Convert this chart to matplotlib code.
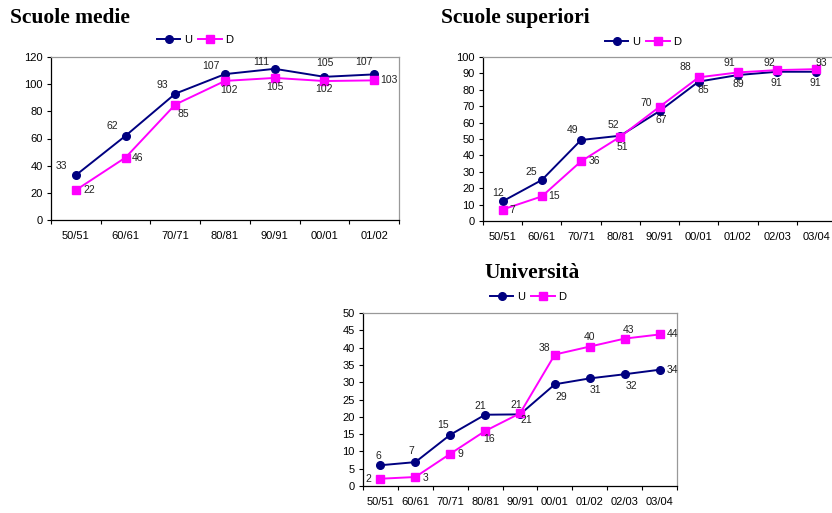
import matplotlib
matplotlib.use("Agg")
import matplotlib.pyplot as plt
from matplotlib.ticker import MultipleLocator, FixedLocator

# ---- data ----
medie_cats = ["50/51", "60/61", "70/71", "80/81", "90/91", "00/01", "01/02"]
medie_U = [33, 62, 93, 107.4, 111.3, 105.4, 107.2]
medie_D = [22, 46, 85, 102.4, 104.6, 102.3, 102.8]

sup_cats = ["50/51", "60/61", "70/71", "80/81", "90/91", "00/01", "01/02", "02/03", "03/04"]
sup_U = [12, 25, 49.4, 52, 67, 85, 89, 91, 91]
sup_D = [7, 15, 36.4, 51.4, 69.6, 87.6, 90.6, 92, 92.6]

uni_cats = ["50/51", "60/61", "70/71", "80/81", "90/91", "00/01", "01/02", "02/03", "03/04"]
uni_U = [6, 6.9, 14.8, 20.6, 20.7, 29.4, 31.1, 32.3, 33.6]
uni_D = [2.1, 2.6, 9.3, 15.9, 21.0, 38.0, 40.3, 42.6, 43.8]

titles = ["Scuole medie", "Scuole superiori", "Università"]

# ---- label offsets (pixels) ----
medie_offU = [(-14, 9), (-13, 10), (-13, 9), (-14, 8), (-13, 7), (0, 14), (-10, 12)]
medie_offD = [(13, 0), (12, 0), (8, -9), (4, -9), (0, -9), (0, -8), (15, 0)]
sup_offU = [(-5, 8), (-11, 8), (-8, 10), (-7, 11), (2, -9), (5, -8), (0, -9), (-1, -11), (-1, -11)]
sup_offD = [(10, 0), (12, 0), (13, 0), (2, -10), (-13, 4), (-13, 10), (-9, 9), (-8, 7), (5, 6)]
uni_offU = [(-2, 9), (-4, 11), (-7, 10), (-5, 9), (6, -6), (6, -13), (6, -12), (7, -12), (13, 0)]
uni_offD = [(-12, 0), (10, -1), (10, 0), (4, -8), (-4, 8), (-10, 7), (0, 10), (4, 9), (13, 0)]

W, H = 832, 513
fig = plt.figure(figsize=(W / 100, H / 100), dpi=100)
plt.rcParams['font.family'] = ['Liberation Sans', 'DejaVu Sans']

NAVY = "#000080"
MAG = "#FF00FF"
PX = 0.72  # points per pixel


def make(rect_px, cats, U, D, offU, offD, ymax, ystep, legend_px, title, title_px, title_ha):
    l, t, r, b = rect_px
    ax = fig.add_axes([l / W, 1 - b / H, (r - l) / W, (b - t) / H])
    n = len(cats)
    x = list(range(n))
    lu, = ax.plot(x, U, color=NAVY, marker="o", markersize=5.5, lw=1.4, label="U", clip_on=False, zorder=3)
    ld, = ax.plot(x, D, color=MAG, marker="s", markersize=5.5, lw=1.4, label="D", clip_on=False, zorder=3)
    ax.set_xlim(-0.5, n - 0.5)
    ax.set_ylim(0, ymax)
    ax.yaxis.set_major_locator(MultipleLocator(ystep))
    ax.xaxis.set_major_locator(FixedLocator([i - 0.5 for i in range(n + 1)]))
    ax.set_xticklabels([])
    ax.set_xticks(x, minor=True)
    ax.set_xticklabels(cats, minor=True, fontsize=8)
    ax.tick_params(axis="x", which="major", direction="out", length=3, width=0.8)
    ax.tick_params(axis="x", which="minor", length=0, pad=8)
    ax.tick_params(axis="y", direction="out", length=3, width=0.8, labelsize=8, pad=3)
    for s in ("top", "right"):
        ax.spines[s].set_color("#999999")
        ax.spines[s].set_linewidth(0.9)
    for s in ("left", "bottom"):
        ax.spines[s].set_color("black")
        ax.spines[s].set_linewidth(0.9)
    for i in range(n):
        ax.annotate(f"{round(U[i])}", (x[i], U[i]), xytext=(offU[i][0] * PX, offU[i][1] * PX),
                    textcoords="offset points", ha="center", va="center", fontsize=7.5, color="#222222")
        ax.annotate(f"{round(D[i])}", (x[i], D[i]), xytext=(offD[i][0] * PX, offD[i][1] * PX),
                    textcoords="offset points", ha="center", va="center", fontsize=7.5, color="#222222")
    ax.legend(handles=[lu, ld], loc="center", bbox_to_anchor=(legend_px[0] / W, 1 - legend_px[1] / H),
              bbox_transform=fig.transFigure, ncol=2, frameon=False, fontsize=8,
              handlelength=2.1, handletextpad=0.3, columnspacing=0.6)
    fig.text(title_px[0] / W, 1 - title_px[1] / H, title, ha=title_ha, va="center",
             fontsize=15.5, fontweight="bold", family=["Liberation Serif", "DejaVu Serif"])
    return ax


make((51, 57, 399, 220), medie_cats, medie_U, medie_D, medie_offU, medie_offD,
     120, 20, (195, 40), titles[0], (10, 18), "left")
make((483, 57, 836, 221), sup_cats, sup_U, sup_D, sup_offU, sup_offD,
     100, 10, (643, 42), titles[1], (441, 18), "left")
make((363, 313, 677, 486), uni_cats, uni_U, uni_D, uni_offU, uni_offD,
     50, 5, (528, 297), titles[2], (532, 273), "center")

fig.savefig("out.png", dpi=100)
